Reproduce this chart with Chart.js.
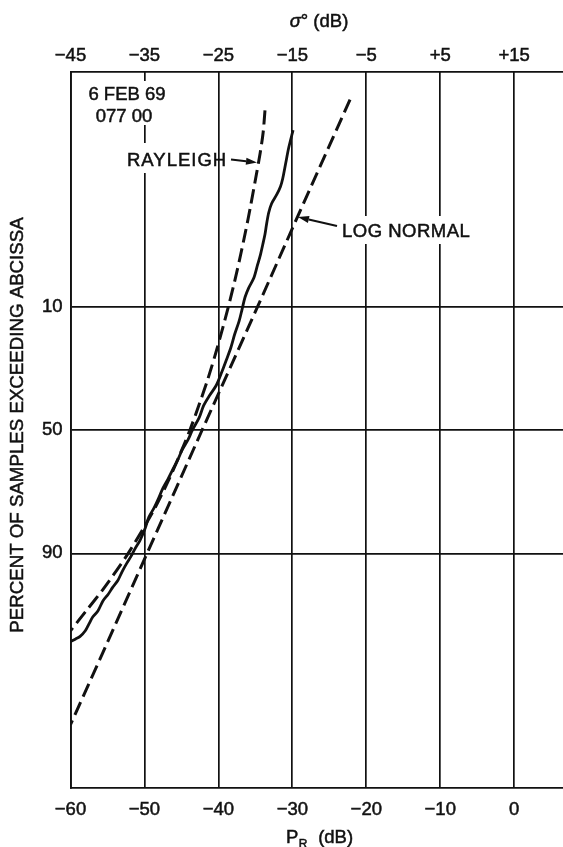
<!DOCTYPE html>
<html>
<head>
<meta charset="utf-8">
<script src="https://cdn.jsdelivr.net/npm/chart.js@4.4.1/dist/chart.umd.min.js"></script>
<style>
  html, body { margin: 0; padding: 0; background: #fff; }
  #wrap { width: 563px; height: 847px; position: relative; }
</style>
</head>
<body>
<div id="wrap"><canvas id="dist-chart"></canvas></div>
<script>
// Received power distribution, 6 FEB 69 run 077 00, on normal-probability paper

// Axis ticks
const xTicksPr = [-60, -50, -40, -30, -20, -10, 0];      // P_R (dB), bottom
const xTicksSigma = [-45, -35, -25, -15, -5, 5, 15];     // sigma° (dB), top
const yTickPct = [10, 50, 90];                           // percent exceeding

// Rayleigh reference curve (percent exceeding, dB)
const rayleighPct = [0.045, 0.1, 0.2, 0.5, 1, 2, 5, 10, 20, 30, 40, 50, 60, 70, 80, 90, 95, 97, 98.15];
const rayleighDb  = [-33.7, -33.95, -34.35, -35.05, -35.65, -36.35, -37.5, -38.65, -40.2, -41.45,
                     -42.65, -43.85, -45.2, -46.75, -48.8, -52.2, -55.5, -57.9, -60];

// Log normal reference line
const logNormalPct = [0.03, 1, 10, 50, 90, 99, 99.89];
const logNormalDb  = [-22.2, -28.65, -34.7, -42.2, -49.65, -55.7, -60];

// Measured distribution
const measuredPct = [98.6, 98.5, 98.4, 98.15, 97.8, 97.4, 97.0, 96.2, 95.6, 94.9, 94.1, 92.9, 91.7,
                     90.5, 89.2, 87.4, 84.6, 81.7, 79.1, 76.7, 72.7, 69.4, 66.1, 62.2, 58.2, 54.0,
                     49.9, 44.9, 40.0, 36.0, 32.2, 27.1, 23.2, 19.5, 16.0, 12.9, 10.5, 8.4, 7.0,
                     5.7, 4.3, 3.4, 2.7, 2.1, 1.65, 1.2, 0.93, 0.72, 0.57, 0.45, 0.28, 0.17, 0.092];
const measuredDb  = [-60.0, -59.3, -58.7, -58.0, -57.5, -57.0, -56.3, -55.6, -54.9, -54.3, -53.6,
                     -53.0, -52.4, -51.8, -51.3, -50.6, -49.9, -49.4, -48.7, -48.2, -47.5, -46.8,
                     -46.2, -45.5, -44.9, -44.1, -43.5, -42.6, -42.0, -41.2, -40.3, -39.5, -38.9,
                     -38.3, -37.8, -37.2, -36.8, -36.4, -35.9, -35.2, -34.7, -34.3, -34.0, -33.7,
                     -33.5, -33.2, -32.8, -32.1, -31.6, -31.3, -30.9, -30.5, -29.9];

const INK = '#111';
const FONT = "'Liberation Sans', Arial, sans-serif";

// Inverse normal CDF (Acklam), used for the probability axis
function probit(p) {
  const a = [-3.969683028665376e+01, 2.209460984245205e+02, -2.759285104469687e+02,
             1.383577518672690e+02, -3.066479806614716e+01, 2.506628277459239e+00];
  const b = [-5.447609879822406e+01, 1.615858368580409e+02, -1.556989798598866e+02,
             6.680131188771972e+01, -1.328068155288572e+01];
  const c = [-7.784894002430293e-03, -3.223964580411365e-01, -2.400758277161838e+00,
             -2.549732539343734e+00, 4.374664141464968e+00, 2.938163982698783e+00];
  const d = [7.784695709041462e-03, 3.224671290700398e-01, 2.445134137142996e+00,
             3.754408661907416e+00];
  const plow = 0.02425, phigh = 1 - plow;
  let q, r;
  if (p < plow) {
    q = Math.sqrt(-2 * Math.log(p));
    return (((((c[0]*q+c[1])*q+c[2])*q+c[3])*q+c[4])*q+c[5]) / ((((d[0]*q+d[1])*q+d[2])*q+d[3])*q+1);
  }
  if (p <= phigh) {
    q = p - 0.5; r = q * q;
    return (((((a[0]*r+a[1])*r+a[2])*r+a[3])*r+a[4])*r+a[5])*q / (((((b[0]*r+b[1])*r+b[2])*r+b[3])*r+b[4])*r+1);
  }
  q = Math.sqrt(-2 * Math.log(1 - p));
  return -(((((c[0]*q+c[1])*q+c[2])*q+c[3])*q+c[4])*q+c[5]) / ((((d[0]*q+d[1])*q+d[2])*q+d[3])*q+1);
}

function toPoints(dbs, pcts) {
  return dbs.map((v, i) => ({ x: v, y: probit(pcts[i] / 100) }));
}

function dbLabel(v) {
  if (v === 0) return '0';
  return v > 0 ? '+' + v : '\u2212' + Math.abs(v);
}

// fill plus a thin stroke so the lettering is a bit heavier
function heavyText(ctx, s, x, y) {
  ctx.fillText(s, x, y);
  ctx.strokeText(s, x, y);
}

// Text labels, arrows and axis titles drawn on top of the grid
const annotations = {
  id: 'annotations',
  afterDatasetsDraw(chart) {
    const ctx = chart.ctx;
    ctx.save();
    ctx.fillStyle = '#fff';
    ctx.fillRect(82, 81, 90, 44);     // date/time box
    ctx.fillRect(122, 143, 90, 30);   // RAYLEIGH label
    ctx.fillRect(338, 216, 136, 28);  // LOG NORMAL label

    ctx.fillStyle = INK;
    ctx.strokeStyle = INK;
    ctx.lineWidth = 0.5;
    ctx.textAlign = 'center';
    ctx.textBaseline = 'alphabetic';
    ctx.font = '18.5px ' + FONT;
    heavyText(ctx, '6 FEB 69', 127, 100);
    heavyText(ctx, '077 00', 124, 122);

    ctx.letterSpacing = '1px';
    ctx.textAlign = 'left';
    heavyText(ctx, 'RAYLEIGH', 127, 166);
    ctx.letterSpacing = '0.5px';
    heavyText(ctx, 'LOG NORMAL', 342, 237);
    ctx.letterSpacing = '0px';

    arrow(ctx, 231, 159.5, 257, 162.5);
    arrow(ctx, 337, 226, 298, 217);
    ctx.restore();
  },
  afterDraw(chart) {
    const ctx = chart.ctx;
    ctx.save();
    ctx.fillStyle = INK;
    ctx.strokeStyle = INK;
    ctx.lineWidth = 0.5;
    ctx.font = '18.5px ' + FONT;
    ctx.textBaseline = 'alphabetic';

    // top title
    ctx.textAlign = 'left';
    ctx.font = 'italic 18.5px ' + FONT;
    const sig = '\u03c3';
    const w1 = ctx.measureText(sig).width;
    ctx.font = '18.5px ' + FONT;
    const rest = '\u00b0 (dB)';
    const w2 = ctx.measureText(rest).width;
    let x0 = 319 - (w1 + w2) / 2;
    ctx.font = 'italic 18.5px ' + FONT;
    heavyText(ctx, sig, x0, 27);
    ctx.font = '18.5px ' + FONT;
    heavyText(ctx, rest, x0 + w1, 27);

    // bottom title with subscript
    const pW = ctx.measureText('P').width;
    ctx.font = '12px ' + FONT;
    const rW = ctx.measureText('R').width;
    ctx.font = '18.5px ' + FONT;
    const dW = ctx.measureText('  (dB)').width;
    x0 = 319 - (pW + rW + dW) / 2;
    heavyText(ctx, 'P', x0, 843);
    ctx.font = '12px ' + FONT;
    heavyText(ctx, 'R', x0 + pW + 0.5, 848);
    ctx.font = '18.5px ' + FONT;
    heavyText(ctx, '  (dB)', x0 + pW + rW + 1, 843);

    // left title
    ctx.translate(18, 425);
    ctx.rotate(-Math.PI / 2);
    ctx.textAlign = 'center';
    ctx.textBaseline = 'middle';
    ctx.font = '18.7px ' + FONT;
    heavyText(ctx, 'PERCENT OF SAMPLES EXCEEDING ABCISSA', 0, 0);
    ctx.restore();
  }
};

function arrow(ctx, x1, y1, x2, y2) {
  const ang = Math.atan2(y2 - y1, x2 - x1);
  const len = 11, half = 3.5;
  const bx = x2 - len * Math.cos(ang), by = y2 - len * Math.sin(ang);
  ctx.lineWidth = 2;
  ctx.beginPath();
  ctx.moveTo(x1, y1);
  ctx.lineTo(bx, by);
  ctx.stroke();
  ctx.beginPath();
  ctx.moveTo(x2, y2);
  ctx.lineTo(bx - half * Math.sin(ang), by + half * Math.cos(ang));
  ctx.lineTo(bx + half * Math.sin(ang), by - half * Math.cos(ang));
  ctx.closePath();
  ctx.fill();
}

const tickFont = { family: FONT, size: 18.5 };
const tickStyle = { font: tickFont, color: INK, textStrokeColor: INK, textStrokeWidth: 0.5, maxRotation: 0, autoSkip: false };
const gridStyle = { color: INK, lineWidth: 1.7, drawTicks: false };
const borderStyle = { color: INK, width: 1.8 };

new Chart(document.getElementById('dist-chart'), {
  type: 'scatter',
  data: {
    datasets: [
      {
        label: 'Rayleigh',
        data: toPoints(rayleighDb, rayleighPct),
        showLine: true,
        borderColor: INK,
        borderWidth: 3,
        borderDash: [14, 6],
        pointRadius: 0,
        tension: 0.3
      },
      {
        label: 'Log normal',
        data: toPoints(logNormalDb, logNormalPct),
        showLine: true,
        borderColor: INK,
        borderWidth: 3,
        borderDash: [14, 6],
        pointRadius: 0,
        tension: 0
      },
      {
        label: 'Measured',
        data: toPoints(measuredDb, measuredPct),
        showLine: true,
        borderColor: INK,
        borderWidth: 2.8,
        pointRadius: 0,
        tension: 0.3
      }
    ]
  },
  options: {
    responsive: true,
    maintainAspectRatio: false,
    animation: false,
    layout: { padding: 0 },
    plugins: { legend: { display: false }, tooltip: { enabled: false } },
    scales: {
      x: {
        type: 'linear',
        position: 'bottom',
        min: -60,
        max: 6.6,
        afterBuildTicks: s => { s.ticks = xTicksPr.map(v => ({ value: v })); },
        afterFit: s => { s.height = 59; },
        grid: gridStyle,
        border: borderStyle,
        ticks: Object.assign({}, tickStyle, { padding: 11, callback: v => dbLabel(v) })
      },
      x2: {
        type: 'linear',
        position: 'top',
        min: -45,
        max: 21.6,
        afterBuildTicks: s => { s.ticks = xTicksSigma.map(v => ({ value: v })); },
        afterFit: s => { s.height = 72; },
        grid: { drawOnChartArea: false, drawTicks: false },
        border: borderStyle,
        ticks: Object.assign({}, tickStyle, { padding: 5, callback: v => dbLabel(v) })
      },
      y: {
        type: 'linear',
        reverse: true,
        min: probit(0.0001),
        max: probit(0.9999),
        afterBuildTicks: s => { s.ticks = yTickPct.map(p => ({ value: probit(p / 100) })); },
        afterFit: s => { s.width = 70.5; },
        grid: gridStyle,
        border: borderStyle,
        ticks: Object.assign({}, tickStyle, { padding: 8, callback: (v, i) => String(yTickPct[i]) })
      }
    }
  },
  plugins: [annotations]
});
</script>
</body>
</html>
